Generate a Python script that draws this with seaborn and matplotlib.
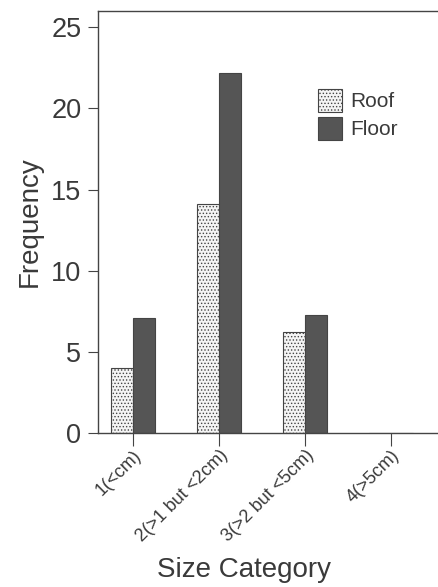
import matplotlib
matplotlib.use("Agg")
import matplotlib.pyplot as plt
from matplotlib.patches import Patch
import seaborn as sns
import pandas as pd

# Data
categories = ["1(<cm)", "2(>1 but <2cm)", "3(>2 but <5cm)", "4(>5cm)"]
roof = [4.0, 14.1, 6.2, 0.0]
floor = [7.1, 22.2, 7.3, 0.0]
series_names = ["Roof", "Floor"]
y_ticks = [0, 5, 10, 15, 20, 25]

df = pd.DataFrame({
    "Size Category": categories * 2,
    "Frequency": roof + floor,
    "Location": [series_names[0]] * len(categories) + [series_names[1]] * len(categories),
})

sns.set_theme(style="white")
plt.rcParams["font.family"] = ["Liberation Sans", "DejaVu Sans"]
plt.rcParams["hatch.linewidth"] = 0.6
plt.rcParams["hatch.color"] = "#8a8a8a"

text_color = "#3a3a3a"
line_color = "#444444"
roof_face = "#f4f4f4"
floor_face = "#555555"

fig = plt.figure(figsize=(4.38, 5.87), dpi=100)
W, H = 438, 587
ax = fig.add_axes([98 / W, (H - 433) / H, (W - 98) / W, (433 - 11) / H])

sns.barplot(
    data=df, x="Size Category", y="Frequency", hue="Location",
    hue_order=series_names, order=categories,
    palette=[roof_face, floor_face], width=0.52, saturation=1,
    edgecolor=line_color, linewidth=0.8, legend=False, ax=ax,
)

# Dotted fill for the roof bars, solid dark fill for the floor bars
for bar in ax.containers[0]:
    bar.set_hatch(".....")
for bar in ax.containers[1]:
    bar.set_hatch("")

ax.set_xlim(-0.407, 3.547)
ax.set_ylim(0, 26)
ax.set_yticks(y_ticks)
ax.set_yticklabels([str(t) for t in y_ticks], fontsize=19.5, color=text_color)
ax.set_xticks(range(len(categories)))
ax.set_xticklabels(categories, rotation=45, ha="right", rotation_mode="anchor",
                   fontsize=13, color=text_color)

ax.tick_params(axis="y", direction="out", length=7, width=0.8, color=line_color, pad=5, left=True)
ax.tick_params(axis="x", direction="out", length=9, width=0.8, color=line_color, pad=1, bottom=True)

for side in ["left", "bottom", "top"]:
    ax.spines[side].set_visible(True)
    ax.spines[side].set_color(line_color)
    ax.spines[side].set_linewidth(1.0)
ax.spines["right"].set_visible(False)

ax.set_ylabel("Frequency", fontsize=20, color=text_color, labelpad=6)
ax.set_xlabel("Size Category", fontsize=20, color=text_color)
# x-axis title sits under the bar groups
ax.xaxis.set_label_coords((244 - 98) / 340, -(577 - 433) / 422, transform=ax.transAxes)
ax.xaxis.label.set_va("baseline")

handles = [
    Patch(facecolor=roof_face, edgecolor=line_color, hatch=".....", linewidth=0.8, label="Roof"),
    Patch(facecolor=floor_face, edgecolor=line_color, linewidth=0.8, label="Floor"),
]
leg = ax.legend(
    handles=handles, loc="upper left", bbox_to_anchor=((318 - 98) / 340, (433 - 89) / 422),
    frameon=False, fontsize=15, handlelength=1.15, handleheight=1.3,
    handletextpad=0.38, labelspacing=0.25, borderpad=0, borderaxespad=0,
)
for t in leg.get_texts():
    t.set_color(text_color)

fig.savefig("out.png", dpi=100, facecolor="white")
